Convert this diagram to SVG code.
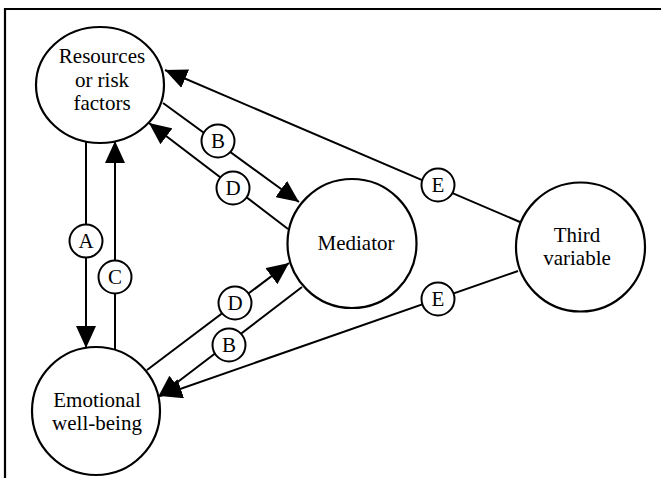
<svg xmlns="http://www.w3.org/2000/svg" width="661" height="478" viewBox="0 0 661 478">
  <style>
    .node { fill: #ffffff; stroke: #000000; stroke-width: 2.2; }
    .txt { font-family: "Liberation Serif", "DejaVu Serif", "Times New Roman", serif; font-size: 21px; fill: #000000; text-anchor: middle; }
    .edge { stroke: #000000; stroke-width: 2; fill: none; }
    .tag { fill: #ffffff; stroke: #000000; stroke-width: 2; }
    .frame { stroke: #000000; stroke-width: 2.2; fill: none; }
  </style>
  <defs>
    <marker id="arrow" markerUnits="userSpaceOnUse" markerWidth="22" markerHeight="20" refX="22" refY="10" orient="auto">
      <path d="M0,0 L22,10 L0,20 Z" fill="#000000"/>
    </marker>
  </defs>

  <rect width="661" height="478" fill="#ffffff"/>
  <!-- outer frame (top and left edges) -->
  <path class="frame" d="M5,478 V9 H661"/>

  <g id="connectors">
    <g id="edge-A">
      <line class="edge" x1="86" y1="142" x2="86" y2="348" marker-end="url(#arrow)"/>
      <circle class="tag" cx="86" cy="241" r="16.5"/>
      <text class="txt" x="86" y="248" font-family="Liberation Serif, serif">A</text>
    </g>
    <g id="edge-C">
      <line class="edge" x1="115" y1="349" x2="115" y2="141" marker-end="url(#arrow)"/>
      <circle class="tag" cx="115" cy="277" r="16.5"/>
      <text class="txt" x="115" y="284" font-family="Liberation Serif, serif">C</text>
    </g>
    <g id="edge-B-top">
      <line class="edge" x1="163" y1="103" x2="299" y2="202" marker-end="url(#arrow)"/>
      <circle class="tag" cx="218" cy="141" r="16.5"/>
      <text class="txt" x="218" y="148" font-family="Liberation Serif, serif">B</text>
    </g>
    <g id="edge-D-top">
      <line class="edge" x1="288" y1="229" x2="149" y2="123" marker-end="url(#arrow)"/>
      <circle class="tag" cx="233" cy="188" r="16.5"/>
      <text class="txt" x="233" y="195" font-family="Liberation Serif, serif">D</text>
    </g>
    <g id="edge-E-top">
      <line class="edge" x1="520" y1="222" x2="165" y2="70" marker-end="url(#arrow)"/>
      <circle class="tag" cx="438" cy="185" r="16.5"/>
      <text class="txt" x="438" y="192" font-family="Liberation Serif, serif">E</text>
    </g>
    <g id="edge-D-bottom">
      <line class="edge" x1="147" y1="370" x2="289" y2="263" marker-end="url(#arrow)"/>
      <circle class="tag" cx="235" cy="303" r="16.5"/>
      <text class="txt" x="235" y="310" font-family="Liberation Serif, serif">D</text>
    </g>
    <g id="edge-B-bottom">
      <line class="edge" x1="302" y1="287" x2="158" y2="397" marker-end="url(#arrow)"/>
      <circle class="tag" cx="229" cy="345" r="16.5"/>
      <text class="txt" x="229" y="352" font-family="Liberation Serif, serif">B</text>
    </g>
    <g id="edge-E-bottom">
      <line class="edge" x1="518" y1="271" x2="160" y2="396" marker-end="url(#arrow)"/>
      <circle class="tag" cx="438" cy="299" r="16.5"/>
      <text class="txt" x="438" y="306" font-family="Liberation Serif, serif">E</text>
    </g>
  </g>

  <g id="node-resources">
    <ellipse class="node" cx="100" cy="85" rx="64" ry="58"/>
    <text class="txt" x="102" y="63" font-family="Liberation Serif, serif">Resources</text>
    <text class="txt" x="102" y="87" font-family="Liberation Serif, serif">or risk</text>
    <text class="txt" x="102" y="110" font-family="Liberation Serif, serif">factors</text>
  </g>

  <g id="node-mediator">
    <circle class="node" cx="352" cy="243.5" r="64.5"/>
    <text class="txt" x="356" y="250" font-family="Liberation Serif, serif">Mediator</text>
  </g>

  <g id="node-third">
    <circle class="node" cx="580.5" cy="247" r="64.5"/>
    <text class="txt" x="577" y="242" font-family="Liberation Serif, serif">Third</text>
    <text class="txt" x="577" y="265" font-family="Liberation Serif, serif">variable</text>
  </g>

  <g id="node-emotional">
    <circle class="node" cx="96" cy="411" r="64"/>
    <text class="txt" x="97" y="407" font-family="Liberation Serif, serif">Emotional</text>
    <text class="txt" x="97" y="430" font-family="Liberation Serif, serif">well-being</text>
  </g>
</svg>
